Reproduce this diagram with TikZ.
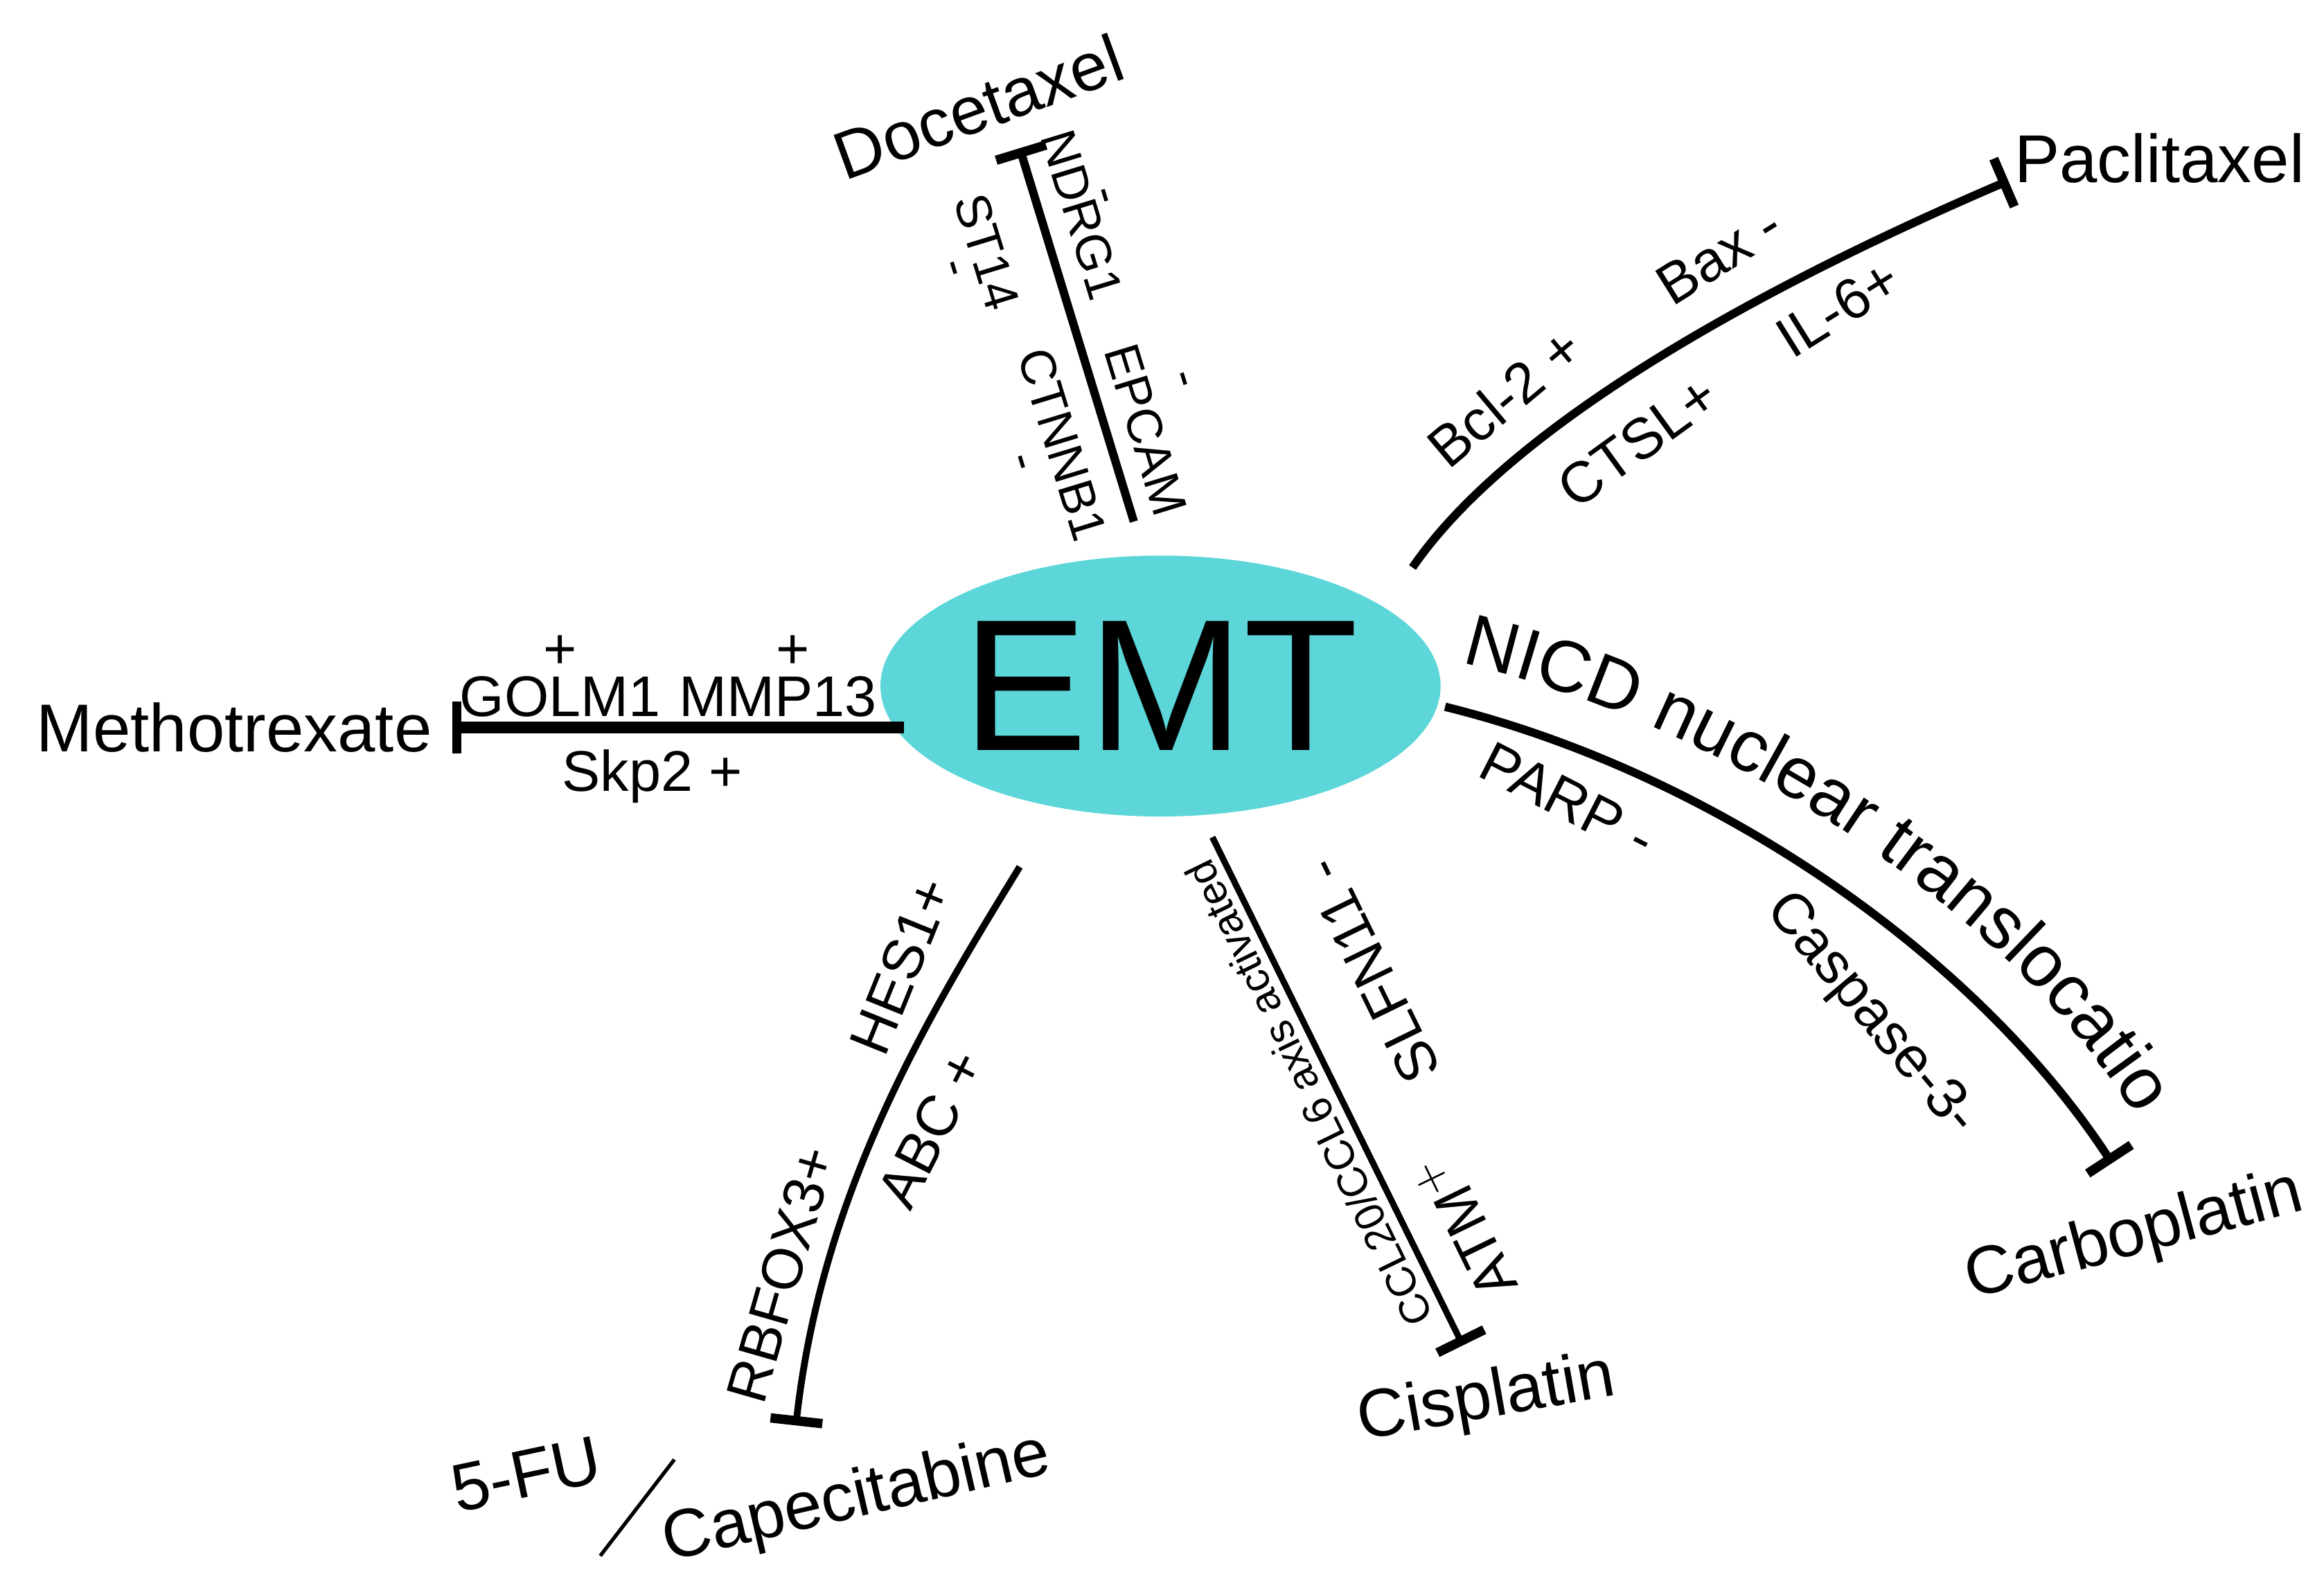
\documentclass[tikz,border=0pt]{standalone}
\usepackage{fontspec}
\setmainfont{Liberation Sans}
\usetikzlibrary{arrows.meta,shapes.geometric,decorations.text}
\begin{document}
\begin{tikzpicture}[x=0.01cm,y=-0.01cm,
  inh/.style={line width=1.6pt,-{Bar[width=10pt,line width=1.8pt]}},
  drug/.style={font=\fontsize{13}{15}\selectfont,inner sep=0},
  lab/.style={font=\fontsize{11}{13}\selectfont,inner sep=0},
  dlab/.style={font=\fontsize{9.5}{11}\selectfont,inner sep=0,rotate=-73},
  small/.style={font=\fontsize{8}{10}\selectfont,inner sep=0}]
\useasboundingbox (0,0) rectangle (1568,1073);
\definecolor{emtc}{HTML}{5CD6D9}
\node[ellipse,fill=emtc,minimum width=3.2cm,minimum height=1.76cm,inner sep=0,font=\fontsize{36}{40}\selectfont] (emt) at (783,463) {EMT};
% Docetaxel
\coordinate (d0) at (765,352); \coordinate (d1) at (688,100);
\draw[inh] (d0) -- (d1);
\node[drug,rotate=20] (doc) at (660,72) {Docetaxel};
\node[dlab] (ndrg) at (730,145) {NDRG1};
\node[dlab] (epcam) at (773,290) {EPCAM};
\node[dlab] (st14) at (666,170) {ST14};
\node[dlab] (ctnnb) at (717,300) {CTNNB1};
\node[dlab] (m1) at (742,133) {-};
\node[dlab] (m2) at (795,257) {-};
\node[dlab] (m3) at (640,182) {-};
\node[dlab] (m4) at (686,313) {-};
% Paclitaxel
\coordinate (p0) at (953,383); \coordinate (p1) at (1355,122);
\draw[inh] (p0) .. controls (1010,300) and (1150,210) .. (p1);
\node[drug] (pac) at (1457,107) {Paclitaxel};
\node[lab,rotate=32] (bax) at (1160,172) {Bax -};
\node[lab,rotate=40] (bcl) at (1015,268) {Bcl-2 +};
\node[lab,rotate=32] (il6) at (1240,208) {IL-6+};
\node[lab,rotate=36] (ctsl) at (1105,298) {CTSL+};
% Methotrexate
\coordinate (t0) at (610,491); \coordinate (t1) at (305,491);
\draw[inh,line width=2.2pt] (t0) -- (t1);
\node[drug] (met) at (158,491) {Methotrexate};
\node[lab] (golm) at (378,470) {GOLM1};
\node[lab] (pg) at (378,440) {+};
\node[lab] (mmp) at (525,470) {MMP13};
\node[lab] (pm) at (535,440) {+};
\node[lab] (skp) at (440,524) {Skp2 +};
% Carboplatin
\coordinate (c0) at (975,477); \coordinate (c1) at (1425,785);
\draw[inh] (c0) .. controls (1150,520) and (1330,640) .. (c1);
\node[drug,rotate=15] (carb) at (1440,835) {Carboplatin};
\path[decorate,decoration={text along path,text align=center,
  text={|\fontsize{14}{16}\selectfont|NICD nuclear translocation}}]
  (1005,452) .. controls (1185,500) and (1365,625) .. (1445,760);
\node[lab,rotate=-27] (parp) at (1058,540) {PARP -};
\node[lab,rotate=-50] (casp) at (1262,685) {Caspase-3-};
% Cisplatin
\coordinate (s0) at (818,565); \coordinate (s1) at (987,908);
\draw[inh,line width=1.2pt] (s0) -- (s1);
\node[drug,rotate=10] (cis) at (1003,945) {Cisplatin};
\node[small,rotate=116] (ccl) at (883,738) {CCL20/CCL6 axis activated};
\node[lab,rotate=116] (slfn) at (925,655) {SLFN11 -};
\node[lab,rotate=116] (atm) at (988,828) {ATM$^{+}$};
% Capecitabine
\coordinate (k0) at (688,585); \coordinate (k1) at (537,962);
\draw[inh,line width=1.3pt] (k0) .. controls (630,680) and (555,800) .. (k1);
\node[lab,rotate=74] (rbf) at (527,860) {RBFOX3+};
\node[lab,rotate=68] (hes) at (608,652) {HES1+};
\node[lab,rotate=63] (abc) at (628,762) {ABC +};
\node[drug,rotate=12] (fu) at (355,995) {5-FU};
\coordinate (sl0) at (405,1050); \coordinate (sl1) at (455,985);
\draw[line width=0.7pt] (sl0) -- (sl1);
\node[drug,rotate=13] (cap) at (578,1012) {Capecitabine};
\end{tikzpicture}
\end{document}
